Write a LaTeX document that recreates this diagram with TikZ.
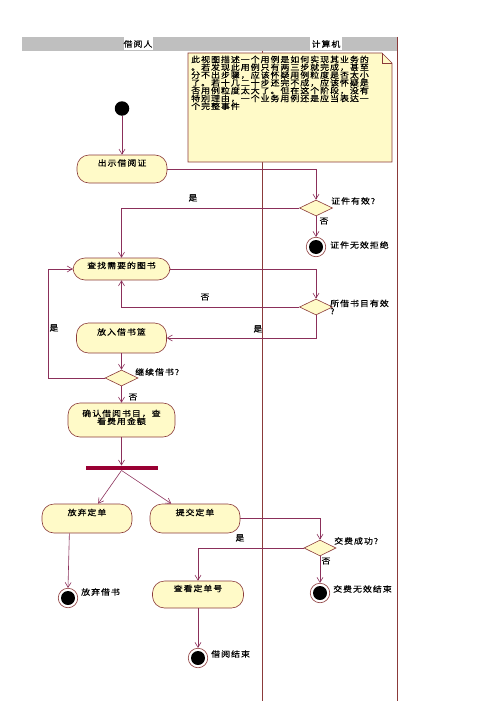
\documentclass[tikz,border=0pt]{standalone}
\usepackage{fontspec}
\usetikzlibrary{shapes.geometric,arrows.meta}
\newfontfamily\cjk[FakeStretch=1.12,LetterSpace=12,FakeBold=0.5]{Noto Sans CJK SC}
\definecolor{ln}{HTML}{8B2F5A}
\definecolor{bx}{HTML}{8B3A3A}
\definecolor{fillc}{HTML}{FFFAC8}
\definecolor{barc}{HTML}{990033}
\tikzset{
  every node/.style={font=\cjk\fontsize{8}{7.8}\selectfont, inner sep=0pt},
  conn/.style={draw=ln, line width=0.6pt},
  arr/.style={conn, -{Straight Barb[length=5pt,width=6pt]}},
  act/.style={rectangle, rounded corners=12pt, draw=bx, fill=fillc, line width=0.6pt,
              text height=6pt, text depth=12pt},
  act2/.style={rectangle, rounded corners=12pt, draw=bx, fill=fillc, line width=0.6pt,
              align=center, text depth=6pt},
  dec/.style={diamond, draw=bx, fill=fillc, line width=0.6pt, minimum width=33pt, minimum height=16pt},
  endnode/.style={circle, draw=bx, fill=white, line width=0.6pt, minimum size=19.5pt,
              path picture={\fill[black] (path picture bounding box.center) circle (7pt);}},
  lbl/.style={anchor=west},
}
\begin{document}
\begin{tikzpicture}[x=1pt,y=-1pt]
\useasboundingbox (0,0) rectangle (500,701);
% swimlanes
\fill[gray!50] (22,37) rectangle (397,51);
\draw[conn, draw=bx] (262,51) -- (262,701);
\draw[conn, draw=bx] (397,37) -- (397,701);
\node[fill=white, minimum width=29pt, minimum height=13pt] (h1) at (138,44) {借阅人};
\node[fill=white, minimum width=32pt, minimum height=13pt] (h2) at (326,44) {计算机};
% note
\fill[fillc] (188,53) -- (382,53) -- (392,63) -- (392,162) -- (188,162) -- cycle;
\draw[draw=bx, line width=0.6pt] (188,53) -- (382,53) -- (392,63) -- (392,162) -- (188,162) -- cycle;
\draw[draw=bx, line width=0.6pt] (382,53) -- (382,63) -- (392,63);
\node[anchor=north west, align=left] (note) at (191,55.5) {此视图描述一个用例是如何实现其业务的\\。若发现此用例只有两三步就完成，甚至\\分不出步骤，应该怀疑用例粒度是否太小\\了。若十几二十步还完不成，应该怀疑是\\否用例粒度太大了。但在这个阶段，没有\\特别理由，一个业务用例还是应当表达一\\个完整事件};
% nodes
\node[circle, fill=black, minimum size=14.5pt] (I) at (122,108.5) {};
\node[act, minimum width=90pt, minimum height=28pt] (A1) at (122,169) {出示借阅证};
\node[dec] (D1) at (316,208) {};
\node[endnode] (E1) at (316,247) {};
\node[act, minimum width=97pt, minimum height=22pt, text depth=7pt] (A2) at (121.5,269) {查找需要的图书};
\node[dec] (D2) at (316,307) {};
\node[act, minimum width=90pt, minimum height=30pt] (A3) at (121.5,338) {放入借书篮};
\node[dec] (D3) at (121.5,378) {};
\coordinate (L) at (48,378);
\node[act2, minimum width=107pt, minimum height=34pt] (A4) at (121.5,420) {确认借阅书目，查\\看费用金额};
\node[rectangle, fill=barc, minimum width=72pt, minimum height=4.5pt] (B) at (121.5,468) {};
\node[act, minimum width=90pt, minimum height=29pt] (A5) at (87,518.5) {放弃定单};
\node[act, minimum width=90pt, minimum height=29pt] (A6) at (195,518.5) {提交定单};
\node[dec, minimum width=32pt] (D4) at (320,548) {};
\node[act, minimum width=91pt, minimum height=27pt] (A7) at (198,594.5) {查看定单号};
\node[endnode] (E2) at (68,598) {};
\node[endnode] (E3) at (198,658) {};
\node[endnode] (E4) at (320,593) {};
% labels
\node[lbl] (l1) at (331,201) {证件有效?};
\node (l2) at (324,221) {否};
\node (l3) at (193,198) {是};
\node[lbl] (l4) at (330,245) {证件无效拒绝};
\node[lbl, align=left] (l5) at (330,307) {所借书目有效\\?};
\node (l6) at (205,297) {否};
\node (l7) at (258,329) {是};
\node (l8) at (54,328) {是};
\node[lbl] (l9) at (135,372) {继续借书?};
\node (l10) at (133,397) {否};
\node[lbl] (l11) at (334,541) {交费成功?};
\node (l12) at (326,561) {否};
\node (l13) at (240,538) {是};
\node[lbl] (l14) at (81,592) {放弃借书};
\node[lbl] (l15) at (211,654) {借阅结束};
\node[lbl] (l16) at (333,589) {交费无效结束};
% connectors
\draw[arr] (I) -- (A1);
\draw[arr] (A1.east) -| (D1.north);
\draw[arr] (D1.west) -| (A2.north);
\draw[arr] (D1.south) -- (E1.north);
\draw[arr] (A2.east) -| (D2.north);
\draw[arr] (D2.west) -| (A2.south);
\draw[arr] (D2.south) |- (A3.east);
\draw[arr] (A3.south) -- (D3.north);
\draw[arr] (D3.west) -- (L) |- (A2.west);
\draw[arr] (D3.south) -- (A4.north);
\draw[arr] (A4.south) -- (B.north);
\draw[arr] (B.south) -- (A5.53);
\draw[arr] (B.south) -- (A6.148);
\draw[arr] (A6.east) -| (D4.north);
\draw[arr] (D4.west) -| (A7.north);
\draw[arr] (D4.south) -- (E4.north);
\draw[arr] (A5.220) -- (E2.north);
\draw[arr] (A7.south) -- (E3.north);
\end{tikzpicture}
\end{document}
